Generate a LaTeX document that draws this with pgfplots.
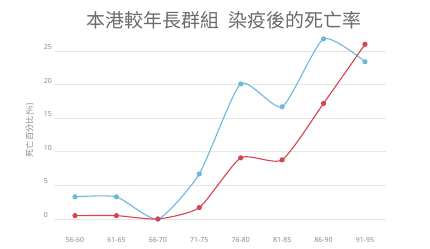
\documentclass[border=0pt]{standalone}
\usepackage{fontspec}
\setmainfont{Noto Sans}
\newfontfamily\cjk{Noto Sans CJK TC}
\usepackage{pgfplots}
\pgfplotsset{compat=1.18}
\definecolor{bl}{HTML}{6DB9DE}
\definecolor{rd}{HTML}{D9434E}
\definecolor{gridc}{HTML}{E6E6E6}
\definecolor{txt}{HTML}{8A8A8A}
\definecolor{ttl}{HTML}{6B6B6B}
\begin{document}
\begin{tikzpicture}[x=1bp,y=1bp]
\fill[white] (0,0) rectangle (430,249);
\path[use as bounding box] (0,0) rectangle (430,249);
\begin{axis}[at={(54.3bp,23.28bp)}, anchor=south west, scale only axis,
  width=331.4bp, height=194.9bp,
  xmin=-0.5, xmax=7.5, ymin=-1, ymax=28,
  axis line style={draw=none},
  ytick={0,5,10,15,20,25},
  xtick={0,...,7},
  xticklabels={56-60,61-65,66-70,71-75,76-80,81-85,86-90,91-95},
  major tick length=0,
  ymajorgrids, grid style={gridc, line width=0.6bp},
  tick label style={font=\fontsize{7}{8}\selectfont, text=txt},
  /pgf/number format/assume math mode=true,
  yticklabel style={anchor=west, xshift=-14bp, yshift=4bp},
  xticklabel style={yshift=-8bp},
  clip=false]
\addplot[bl, line width=1.1bp, smooth, tension=0.35, mark=*, mark size=2bp, mark options={fill=bl}] coordinates {
(0,3.3)(1,3.3)(2,0)(3,6.7)(4,20.1)(5,16.7)(6,26.8)(7,23.4)};
\addplot[rd, line width=1.1bp, smooth, tension=0.35, mark=*, mark size=2bp, mark options={fill=rd}] coordinates {
(0,0.5)(1,0.5)(2,0)(3,1.7)(4,9.1)(5,8.8)(6,17.2)(7,26.0)};
\end{axis}
\node[text=ttl, font=\cjk\fontsize{19}{19}\selectfont] at (224,229) {本港較年長群組\hspace{0.5em}染疫後的死亡率};
\node[text=txt, rotate=90, font=\cjk\fontsize{8.3}{9}\selectfont] at (30,119) {死亡百分比(\%)};
\end{tikzpicture}
\end{document}
